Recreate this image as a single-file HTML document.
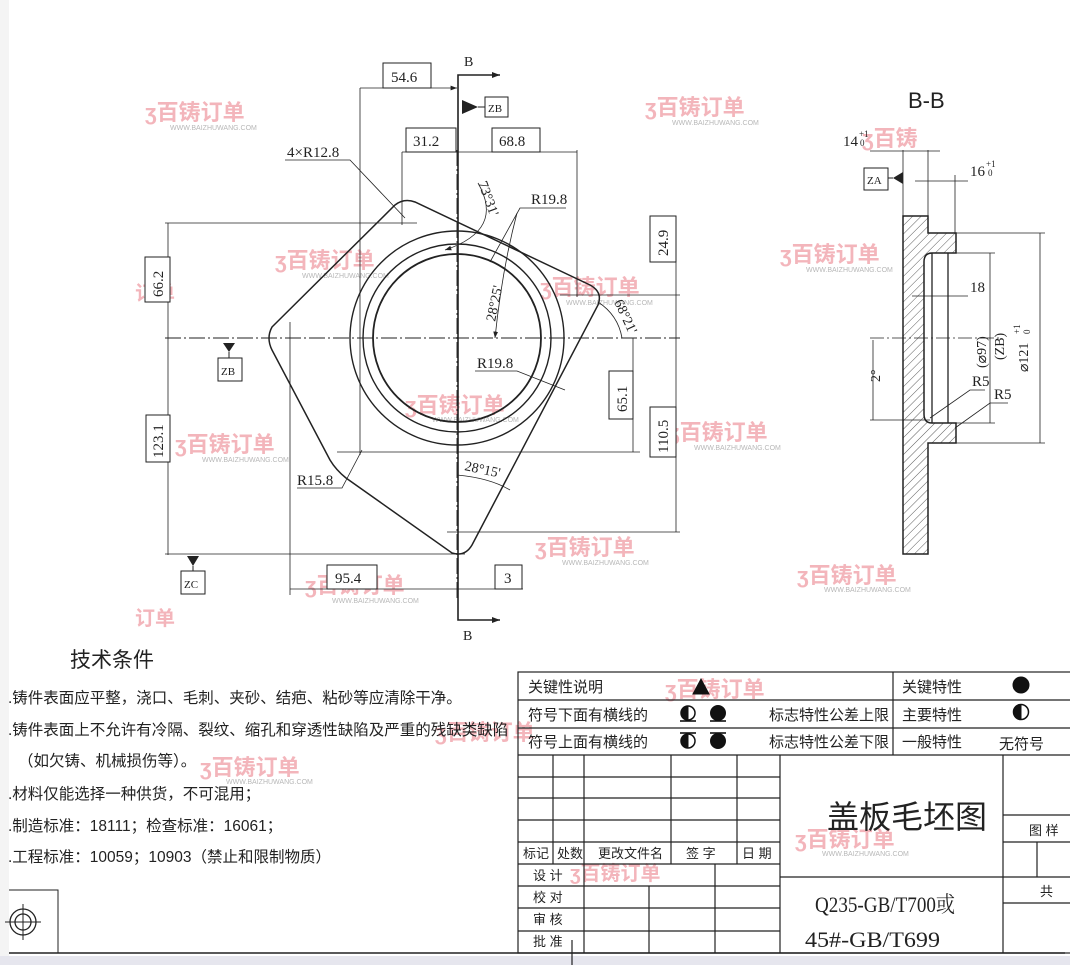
<!DOCTYPE html>
<html><head><meta charset="utf-8"><style>
html,body{margin:0;padding:0;background:#fff}
svg{display:block}
.t{font-family:"Liberation Serif","Noto Serif CJK SC",serif;fill:#222}
.c{font-family:"Liberation Sans","Noto Sans CJK SC",sans-serif;fill:#222}
.w{font-family:"Liberation Sans","Noto Sans CJK SC",sans-serif;font-weight:bold;fill:#f2a9b0;opacity:.85}
.ws{font-family:"Liberation Sans",sans-serif;fill:#b8b8b8;font-size:7px}
</style></head><body>
<svg width="1070" height="965" viewBox="0 0 1070 965" xmlns="http://www.w3.org/2000/svg">
<defs>
<pattern id="h" width="6" height="6" patternUnits="userSpaceOnUse" patternTransform="rotate(45)"><line x1="0" y1="0" x2="0" y2="6" stroke="#333" stroke-width="0.8"/></pattern>
<marker id="a" markerWidth="8" markerHeight="6" refX="8" refY="3" orient="auto"><path d="M0,0 L8,3 L0,6z" fill="#222"/></marker>
</defs>
<rect x="0" y="0" width="9" height="965" fill="#f4f4f4"/>
<rect x="0" y="956" width="1070" height="9" fill="#e6e6ee"/>

<!-- watermarks -->
<g>
<text class="w" x="145" y="120" font-size="22">ʒ百铸订单</text><text class="ws" x="170" y="130">WWW.BAIZHUWANG.COM</text>
<text class="w" x="645" y="115" font-size="22">ʒ百铸订单</text><text class="ws" x="672" y="125">WWW.BAIZHUWANG.COM</text>
<text class="w" x="275" y="268" font-size="22">ʒ百铸订单</text><text class="ws" x="302" y="278">WWW.BAIZHUWANG.COM</text>
<text class="w" x="540" y="295" font-size="22">ʒ百铸订单</text><text class="ws" x="566" y="305">WWW.BAIZHUWANG.COM</text>
<text class="w" x="780" y="262" font-size="22">ʒ百铸订单</text><text class="ws" x="806" y="272">WWW.BAIZHUWANG.COM</text>
<text class="w" x="405" y="413" font-size="22">ʒ百铸订单</text><text class="ws" x="432" y="422">WWW.BAIZHUWANG.COM</text>
<text class="w" x="175" y="452" font-size="22">ʒ百铸订单</text><text class="ws" x="202" y="462">WWW.BAIZHUWANG.COM</text>
<text class="w" x="668" y="440" font-size="22">ʒ百铸订单</text><text class="ws" x="694" y="450">WWW.BAIZHUWANG.COM</text>
<text class="w" x="535" y="555" font-size="22">ʒ百铸订单</text><text class="ws" x="562" y="565">WWW.BAIZHUWANG.COM</text>
<text class="w" x="305" y="593" font-size="22">ʒ百铸订单</text><text class="ws" x="332" y="603">WWW.BAIZHUWANG.COM</text>
<text class="w" x="797" y="583" font-size="22">ʒ百铸订单</text><text class="ws" x="824" y="592">WWW.BAIZHUWANG.COM</text>
<text class="w" x="862" y="146" font-size="22">ʒ百铸</text>
<text class="w" x="200" y="775" font-size="22">ʒ百铸订单</text><text class="ws" x="226" y="784">WWW.BAIZHUWANG.COM</text>
<text class="w" x="435" y="740" font-size="22">ʒ百铸订单</text>
<text class="w" x="665" y="697" font-size="22">ʒ百铸订单</text>
<text class="w" x="795" y="847" font-size="22">ʒ百铸订单</text><text class="ws" x="822" y="856">WWW.BAIZHUWANG.COM</text>
<text class="w" x="570" y="880" font-size="20">ʒ百铸订单</text>
<text class="w" x="135" y="300" font-size="20">订单</text>
<text class="w" x="135" y="625" font-size="20">订单</text>
</g>

<!-- MAIN VIEW -->
<g stroke="#222" fill="none">
<line x1="165" y1="338" x2="680" y2="338" stroke-width="0.9" stroke-dasharray="16,3,2,3"/>
<line x1="457" y1="150" x2="457" y2="600" stroke-width="0.9" stroke-dasharray="16,3,2,3"/>
<polyline points="500,75 458,75 458,620 500,620" stroke-width="1.6"/>
<line x1="470" y1="75" x2="500" y2="75" marker-end="url(#a)"/>
<line x1="470" y1="620" x2="500" y2="620" marker-end="url(#a)"/>
<circle cx="457" cy="338" r="107" stroke-width="1.4"/>
<circle cx="457" cy="338" r="94" stroke-width="1.4"/>
<circle cx="457" cy="338" r="84" stroke-width="1.8"/>
<path d="M272,327 L395,205 Q404,198 415,202 L590,285 Q603,292 598,305 L472,545 Q465,557 452,553 L346,478 Q336,470 330,460 L272,350 Q266,338 272,327 Z" stroke-width="1.5"/>
<g stroke-width="0.8">
<line x1="360" y1="88" x2="360" y2="455"/>
<line x1="360" y1="88" x2="457" y2="88" marker-end="url(#a)"/>
<line x1="402" y1="152" x2="402" y2="225"/>
<line x1="577" y1="150" x2="577" y2="297"/>
<line x1="402" y1="152" x2="577" y2="152"/>
<line x1="165" y1="223" x2="417" y2="223"/>
<line x1="168" y1="223" x2="168" y2="555"/>
<line x1="560" y1="295" x2="680" y2="295"/>
<line x1="676" y1="216" x2="676" y2="532"/>
<line x1="337" y1="452" x2="640" y2="452"/>
<line x1="633" y1="338" x2="633" y2="452"/>
<line x1="447" y1="532" x2="680" y2="532"/>
<line x1="165" y1="554" x2="465" y2="554"/>
<line x1="290" y1="322" x2="290" y2="595"/>
<line x1="290" y1="589" x2="523" y2="589"/>
<polyline points="285,160 350,160 405,218"/>
<polyline points="566,208 520,208 490,262"/>
<polyline points="475,371 517,371 565,390"/>
<polyline points="297,488 342,488 362,450"/>
<path d="M478,183 Q505,230 445,250" marker-end="url(#a)"/>
<path d="M517,213 Q502,270 495,338" marker-end="url(#a)"/>
<path d="M457,475 Q490,478 510,490"/>
<path d="M598,302 Q618,315 622,338"/>
</g>
</g>
<g stroke="#222" fill="#fff" stroke-width="1">
<rect x="383" y="63" width="48" height="25"/>
<rect x="485" y="97" width="23" height="20"/>
<rect x="406" y="128" width="50" height="24"/>
<rect x="492" y="128" width="48" height="24"/>
<rect x="650" y="216" width="26" height="46"/>
<rect x="145" y="257" width="25" height="45"/>
<rect x="218" y="358" width="24" height="23"/>
<rect x="609" y="371" width="24" height="48"/>
<rect x="650" y="407" width="26" height="50"/>
<rect x="146" y="415" width="24" height="47"/>
<rect x="181" y="571" width="24" height="23"/>
<rect x="327" y="565" width="50" height="24"/>
<rect x="495" y="565" width="27" height="24"/>
</g>
<g fill="#222">
<path d="M462,100 L478,107 L462,114z"/><line x1="478" y1="107" x2="485" y2="107" stroke="#222"/>
<path d="M223,343 L235,343 L229,352z"/><line x1="229" y1="352" x2="229" y2="358" stroke="#222"/>
<path d="M187,556 L199,556 L193,566z"/><line x1="193" y1="566" x2="193" y2="571" stroke="#222"/>
</g>
<g class="t" font-size="15">
<text x="464" y="66" font-size="14">B</text>
<text x="463" y="640" font-size="14">B</text>
<text x="391" y="82">54.6</text>
<text x="488" y="112" font-size="11">ZB</text>
<text x="413" y="146">31.2</text>
<text x="499" y="146">68.8</text>
<text x="287" y="157">4×R12.8</text>
<text x="531" y="204">R19.8</text>
<text x="477" y="368">R19.8</text>
<text x="297" y="485">R15.8</text>
<text x="221" y="375" font-size="11">ZB</text>
<text x="184" y="588" font-size="11">ZC</text>
<text x="335" y="583">95.4</text>
<text x="504" y="583">3</text>
<text transform="translate(668,256) rotate(-90)">24.9</text>
<text transform="translate(163,297) rotate(-90)">66.2</text>
<text transform="translate(627,412) rotate(-90)">65.1</text>
<text transform="translate(668,453) rotate(-90)">110.5</text>
<text transform="translate(163,458) rotate(-90)">123.1</text>
<text transform="translate(478,183) rotate(70)" font-size="14">73°31'</text>
<text transform="translate(495,322) rotate(-78)" font-size="14">28°25'</text>
<text transform="translate(464,470) rotate(12)" font-size="14">28°15'</text>
<text transform="translate(614,302) rotate(65)" font-size="14">68°21'</text>
</g>

<!-- SECTION B-B -->
<text class="c" x="908" y="108" font-size="22">B-B</text>
<path d="M903,216 L928,216 L928,233 L956,233 L956,253 L932,253 Q924,253 924,262 L924,414 Q924,423 932,423 L956,423 L956,443 L928,443 L928,554 L903,554 Z" fill="url(#h)" stroke="#222" stroke-width="1.5"/>
<g stroke="#222" fill="none" stroke-width="0.8">
<line x1="932" y1="253" x2="932" y2="423" stroke-width="1.3"/>
<line x1="948" y1="253" x2="948" y2="423" stroke-width="1.3"/>
<line x1="903" y1="150" x2="903" y2="216"/>
<line x1="928" y1="150" x2="928" y2="216"/>
<line x1="870" y1="151" x2="940" y2="151"/>
<line x1="955" y1="175" x2="955" y2="233"/>
<line x1="915" y1="181" x2="968" y2="181"/>
<line x1="912" y1="296" x2="968" y2="296"/>
<line x1="956" y1="233" x2="1045" y2="233"/>
<line x1="956" y1="443" x2="1045" y2="443"/>
<line x1="956" y1="253" x2="995" y2="253"/>
<line x1="956" y1="423" x2="995" y2="423"/>
<line x1="990" y1="253" x2="990" y2="423"/>
<line x1="1040" y1="233" x2="1040" y2="443"/>
<line x1="870" y1="338" x2="1000" y2="338" stroke-dasharray="14,3,2,3"/>
<line x1="873" y1="340" x2="873" y2="420"/>
<line x1="870" y1="420" x2="930" y2="420"/>
<polyline points="985,390 970,390 930,418"/>
<polyline points="1008,403 990,403 955,428"/>
</g>
<rect x="864" y="168" width="24" height="22" fill="#fff" stroke="#222"/>
<path d="M893,178 L903,172 L903,184z" fill="#222"/><line x1="888" y1="178" x2="893" y2="178" stroke="#222"/>
<g class="t" font-size="15">
<text x="843" y="146">14</text><text x="859" y="137" font-size="9">+1</text><text x="860" y="146" font-size="9">0</text>
<text x="867" y="184" font-size="11">ZA</text>
<text x="970" y="176">16</text><text x="986" y="167" font-size="9">+1</text><text x="988" y="176" font-size="9">0</text>
<text x="970" y="292">18</text>
<text x="972" y="386">R5</text>
<text x="994" y="399">R5</text>
<text transform="translate(986,368) rotate(-90)" font-size="14">(⌀97)</text>
<text transform="translate(1004,360) rotate(-90)" font-size="14">(ZB)</text>
<text transform="translate(1028,372) rotate(-90)" font-size="14">⌀121</text>
<text transform="translate(1020,334) rotate(-90)" font-size="9">+1</text>
<text transform="translate(1030,334) rotate(-90)" font-size="9">0</text>
<text transform="translate(880,382) rotate(-90)" font-size="14">2°</text>
</g>

<!-- TECH CONDITIONS -->
<g class="c">
<text x="70" y="667" font-size="21">技术条件</text>
<g font-size="15.5">
<text x="8" y="703">.铸件表面应平整，浇口、毛刺、夹砂、结疤、粘砂等应清除干净。</text>
<text x="8" y="735">.铸件表面上不允许有冷隔、裂纹、缩孔和穿透性缺陷及严重的残缺类缺陷</text>
<text x="18" y="766">（如欠铸、机械损伤等）。</text>
<text x="8" y="799">.材料仅能选择一种供货，不可混用；</text>
<text x="8" y="831">.制造标准：18111；检查标准：16061；</text>
<text x="8" y="862">.工程标准：10059；10903（禁止和限制物质）</text>
</g>
</g>
<g stroke="#222" fill="none">
<polyline points="9,890 58,890 58,953"/>
<circle cx="23" cy="922" r="13" stroke-width="1.3"/>
<circle cx="23" cy="922" r="8" stroke-width="1.3"/>
<line x1="23" y1="904" x2="23" y2="940"/><line x1="5" y1="922" x2="41" y2="922"/>
<line x1="9" y1="953" x2="1065" y2="953" stroke-width="1.4"/>
</g>

<!-- TITLE BLOCK -->
<g stroke="#222" fill="none" stroke-width="1.2">
<rect x="518" y="672" width="560" height="281"/>
<line x1="518" y1="700" x2="1070" y2="700"/>
<line x1="518" y1="728" x2="1070" y2="728"/>
<line x1="518" y1="755" x2="1070" y2="755"/>
<line x1="893" y1="672" x2="893" y2="755"/>
<line x1="518" y1="777" x2="780" y2="777"/>
<line x1="518" y1="798" x2="780" y2="798"/>
<line x1="518" y1="820" x2="780" y2="820"/>
<line x1="518" y1="842" x2="780" y2="842"/>
<line x1="518" y1="864" x2="780" y2="864"/>
<line x1="518" y1="886" x2="780" y2="886"/>
<line x1="518" y1="908" x2="780" y2="908"/>
<line x1="518" y1="931" x2="780" y2="931"/>
<line x1="553" y1="755" x2="553" y2="864"/>
<line x1="584" y1="755" x2="584" y2="953"/>
<line x1="671" y1="755" x2="671" y2="864"/>
<line x1="737" y1="755" x2="737" y2="864"/>
<line x1="649" y1="886" x2="649" y2="953"/>
<line x1="715" y1="864" x2="715" y2="953"/>
<line x1="780" y1="755" x2="780" y2="953"/>
<line x1="1003" y1="755" x2="1003" y2="953"/>
<line x1="780" y1="877" x2="1070" y2="877"/>
<line x1="1003" y1="815" x2="1070" y2="815"/>
<line x1="1003" y1="842" x2="1070" y2="842"/>
<line x1="1003" y1="903" x2="1070" y2="903"/>
<line x1="1037" y1="842" x2="1037" y2="877"/>
<line x1="572" y1="940" x2="572" y2="965"/>
</g>
<!-- symbols -->
<g fill="#111" stroke="#111">
<path d="M693,694 L701,679 L709,694z"/>
<circle cx="688" cy="713" r="7" fill="#fff" stroke-width="1.5"/><path d="M688,706 A7,7 0 0 0 688,720z"/><line x1="680" y1="721" x2="696" y2="721" stroke-width="1.6"/>
<circle cx="718" cy="713" r="7.5"/><line x1="710" y1="721" x2="726" y2="721" stroke-width="1.6"/>
<circle cx="688" cy="741" r="7" fill="#fff" stroke-width="1.5"/><path d="M688,734 A7,7 0 0 0 688,748z"/><line x1="680" y1="733" x2="696" y2="733" stroke-width="1.6"/>
<circle cx="718" cy="741" r="7.5"/><line x1="710" y1="733" x2="726" y2="733" stroke-width="1.6"/>
<circle cx="1021" cy="685" r="8"/>
<circle cx="1021" cy="712" r="7.5" fill="#fff" stroke-width="1.5"/><path d="M1021,704.5 A7.5,7.5 0 0 0 1021,719.5z"/>
</g>
<g class="c" font-size="15">
<text x="528" y="692">关键性说明</text>
<text x="528" y="720">符号下面有横线的</text>
<text x="528" y="747">符号上面有横线的</text>
<text x="769" y="720">标志特性公差上限</text>
<text x="769" y="747">标志特性公差下限</text>
<text x="902" y="692">关键特性</text>
<text x="902" y="720">主要特性</text>
<text x="902" y="747">一般特性</text>
<text x="999" y="749">无符号</text>
<g font-size="13">
<text x="523" y="858">标记</text><text x="557" y="858">处数</text><text x="598" y="858">更改文件名</text>
<text x="686" y="858">签  字</text><text x="742" y="858">日 期</text>
<text x="533" y="880">设  计</text><text x="533" y="902">校  对</text><text x="533" y="924">审  核</text><text x="533" y="946">批  准</text>
<text x="1029" y="835">图  样</text><text x="1040" y="896">共</text>
</g>
<text x="827" y="828" font-size="32">盖板毛坯图</text>
<text class="t" x="815" y="912" font-size="22" textLength="140" lengthAdjust="spacingAndGlyphs">Q235-GB/T700或</text>
<text class="t" x="805" y="947" font-size="22" textLength="135" lengthAdjust="spacingAndGlyphs">45#-GB/T699</text>
</g>
</svg>
</body></html>
